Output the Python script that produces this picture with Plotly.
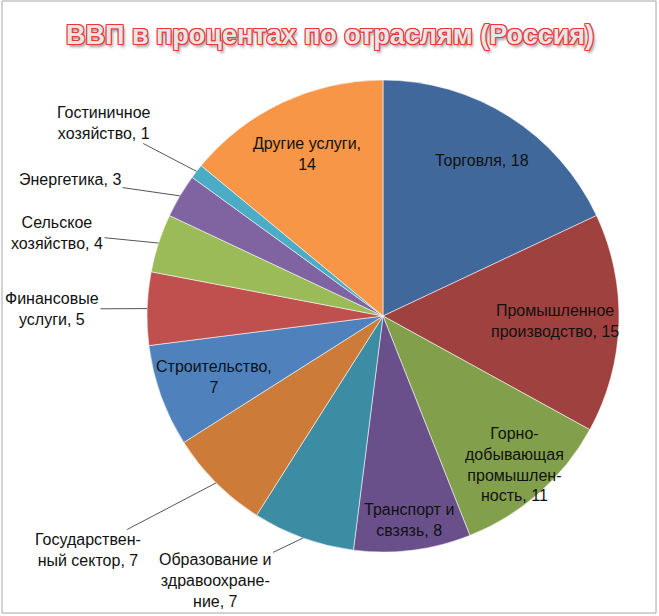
import math
import plotly.graph_objects as go

# Data: GDP share by sector (Russia), clockwise from 12 o'clock
sectors = [
    "Торговля", "Промышленное производство", "Горно-добывающая промышленность",
    "Транспорт и свзязь", "Образование и здравоохранение", "Государственный сектор",
    "Строительство", "Финансовые услуги", "Сельское хозяйство", "Энергетика",
    "Гостиничное хозяйство", "Другие услуги",
]
values = [18, 15, 11, 8, 7, 7, 7, 5, 4, 3, 1, 14]
colors = [
    "#41689B", "#9E413F", "#82A04B", "#6A508A", "#3C8DA3", "#CC7B38",
    "#4F81BD", "#C0504D", "#9BBB59", "#8064A2", "#4BACC6", "#F79646",
]

# how each label is wrapped in the picture ({v} = value)
wrapped = {
    "Торговля": "Торговля, {v}",
    "Промышленное производство": "Промышленное<br>производство, {v}",
    "Горно-добывающая промышленность": "Горно-<br>добывающая<br>промышлен-<br>ность, {v}",
    "Транспорт и свзязь": "Транспорт и<br>свзязь, {v}",
    "Образование и здравоохранение": "Образование и<br>здравоохране-<br>ние, {v}",
    "Государственный сектор": "Государствен-<br>ный сектор, {v}",
    "Строительство": "Строительство,<br>{v}",
    "Финансовые услуги": "Финансовые<br>услуги, {v}",
    "Сельское хозяйство": "Сельское<br>хозяйство, {v}",
    "Энергетика": "Энергетика, {v}",
    "Гостиничное хозяйство": "Гостиничное<br>хозяйство, {v}",
    "Другие услуги": "Другие услуги,<br>{v}",
}

# label placement: inside -> fraction of radius; outside -> text centre in px
inside_r = {
    "Торговля": 0.78, "Промышленное производство": 0.73,
    "Горно-добывающая промышленность": 0.84, "Транспорт и свзязь": 0.87,
    "Строительство": 0.76, "Другие услуги": 0.76,
}
outside_xy = {
    "Образование и здравоохранение": (215, 580),
    "Государственный сектор": (88, 550),
    "Финансовые услуги": (52, 309),
    "Сельское хозяйство": (57, 233),
    "Энергетика": (70, 180),
    "Гостиничное хозяйство": (104, 123),
}

W, H = 659, 616
cx, cy, rad = 383, 316, 236  # pie centre / radius in px


def to_paper(px, py):
    return px / W, 1 - py / H


FONT = "Liberation Sans"
LABEL_SIZE = 16

fig = go.Figure(go.Pie(
    labels=sectors,
    values=values,
    sort=False,
    direction="clockwise",
    rotation=0,
    textinfo="none",
    hoverinfo="label+value",
    marker=dict(colors=colors, line=dict(color="rgba(255,255,255,0.55)", width=1)),
    domain=dict(x=[(cx - rad) / W, (cx + rad) / W],
                y=[1 - (cy + rad) / H, 1 - (cy - rad) / H]),
    showlegend=False,
))

total = sum(values)
cum = 0
for name, v in zip(sectors, values):
    mid = (cum + v / 2) / total * 2 * math.pi
    cum += v
    text = wrapped[name].format(v=v)
    if name in inside_r:
        f = inside_r[name]
        px, py = cx + f * rad * math.sin(mid), cy - f * rad * math.cos(mid)
        x, y = to_paper(px, py)
        fig.add_annotation(x=x, y=y, xref="paper", yref="paper", text=text,
                           showarrow=False, align="center",
                           xanchor="center", yanchor="middle",
                           font=dict(family=FONT, size=LABEL_SIZE, color="#111"))
    else:
        ex, ey = cx + rad * math.sin(mid), cy - rad * math.cos(mid)
        tx, ty = outside_xy[name]
        x, y = to_paper(ex, ey)
        fig.add_annotation(x=x, y=y, xref="paper", yref="paper", text=text,
                           showarrow=True, arrowhead=0, arrowwidth=1,
                           arrowcolor="#555", standoff=0,
                           ax=tx - ex, ay=ty - ey, align="center",
                           font=dict(family=FONT, size=LABEL_SIZE, color="#111"))

# title with red outline look
red = "#E8383D"
tx, ty = to_paper(330, 35)
fig.add_annotation(
    x=tx, y=ty, xref="paper", yref="paper", xanchor="center", yanchor="middle",
    text="<b>ВВП в процентах по отраслям (Россия)</b>", showarrow=False,
    font=dict(family=FONT, size=27, color="#E6E6E6",
              shadow=(f"-1px -1px 0 {red}, 1px -1px 0 {red}, -1px 1px 0 {red}, "
                      f"1px 1px 0 {red}, 0 -1px 0 {red}, 0 1px 0 {red}, "
                      f"-1px 0 0 {red}, 1px 0 0 {red}, 2px 3px 3px #999")),
)

# chart frame
x0, y1 = to_paper(2, 1)
x1, y0 = to_paper(656, 613)
fig.add_shape(type="rect", xref="paper", yref="paper", x0=x0, x1=x1, y0=y0, y1=y1,
              line=dict(color="#A6A6A6", width=1))

fig.update_layout(
    width=W, height=H,
    margin=dict(l=0, r=0, t=0, b=0),
    paper_bgcolor="white",
    plot_bgcolor="white",
)

fig.write_html("out.html", config={"displayModeBar": False},
               post_script="document.body.style.margin='0';")
